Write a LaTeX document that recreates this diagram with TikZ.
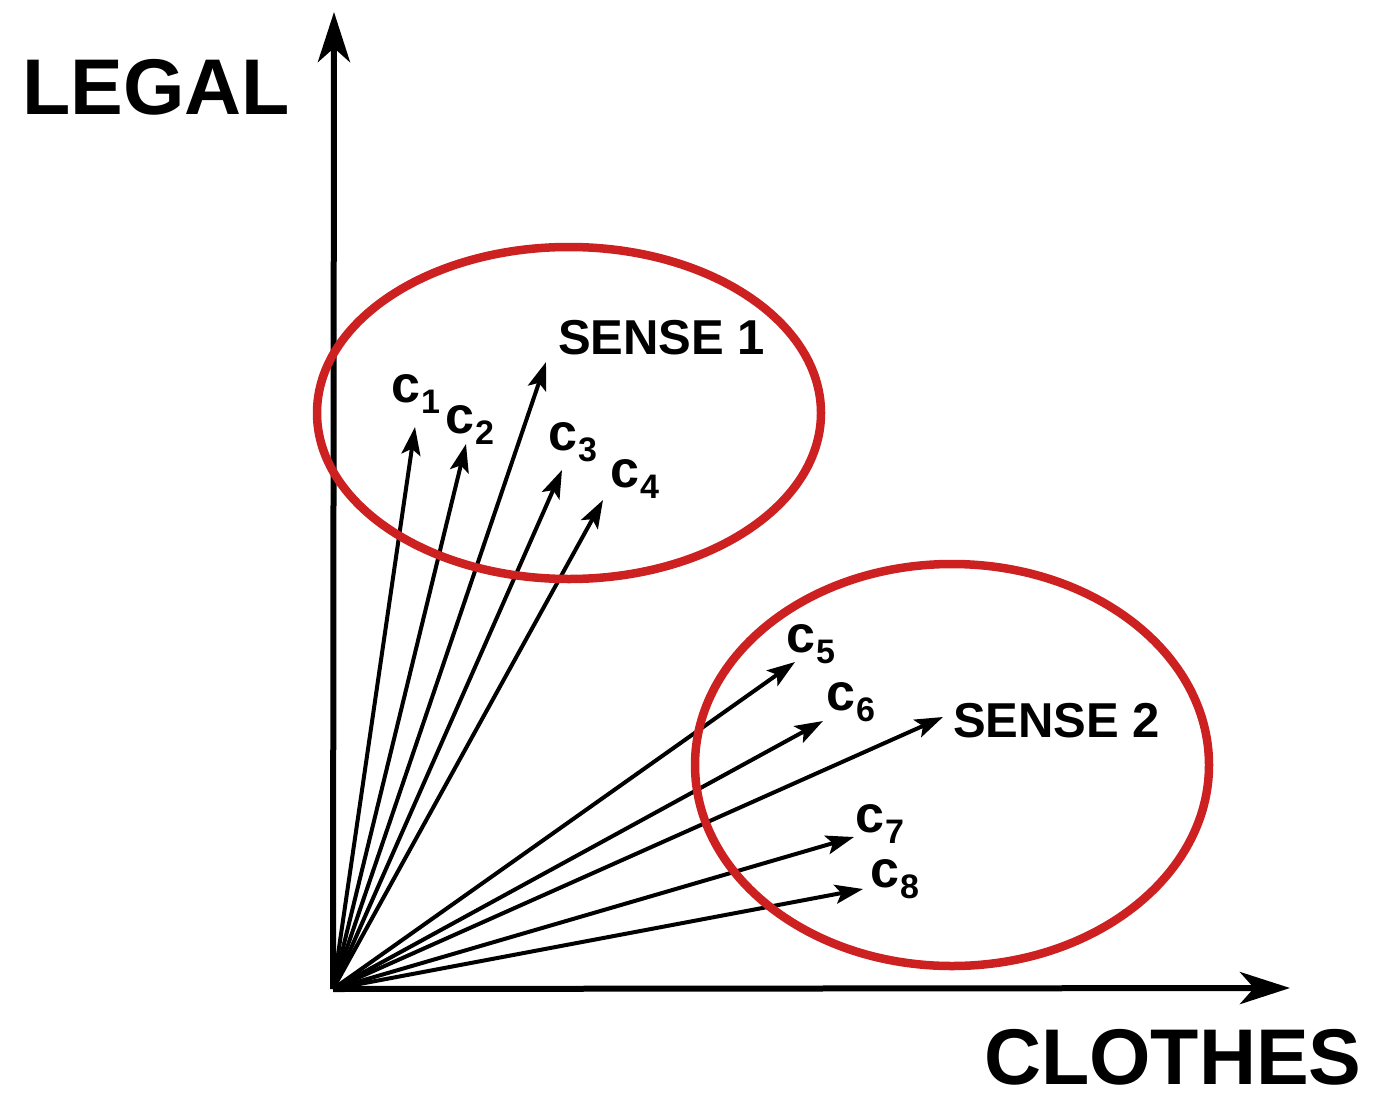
\documentclass[tikz,border=0pt]{standalone}
\usepackage{fontspec}
\setmainfont{Liberation Sans}
\usetikzlibrary{arrows.meta}
\definecolor{sensered}{RGB}{205,32,32}
\newcommand{\cvec}[1]{c\kern1pt\raisebox{-11pt}{\fontsize{34}{34}\selectfont #1}}

\begin{document}
\begin{tikzpicture}[
    x=1pt, y=-1pt,
    axis/.style={line width=6pt, -{Stealth[length=50pt, width=32pt, inset=14pt]}},
    vec/.style={line width=4pt, -{Stealth[length=28pt, width=19pt, inset=6pt]}},
    sense/.style={draw=sensered, line width=8.5pt},
    axlabel/.style={font=\bfseries\fontsize{79}{79}\selectfont, inner sep=0pt, anchor=base west},
    senselabel/.style={font=\bfseries\fontsize{49}{49}\selectfont, inner sep=0pt, anchor=base west},
    veclabel/.style={font=\bfseries\fontsize{52}{52}\selectfont, inner sep=0pt, anchor=base west},
]
\useasboundingbox (0,0) rectangle (1383,1094);

% Origin and axis ends
\coordinate (O) at (333,989);
\coordinate (ytop) at (334,12);
\coordinate (xend) at (1290,988);

% Axes
\draw[axis] (O) -- (ytop);
\draw[axis] (O) -- (xend);
\node[axlabel] (legal) at (22,115) {LEGAL};
\node[axlabel] (clothes) at (984,1084) {CLOTHES};

% Context vector tips
\coordinate (c1) at (415,427);
\coordinate (c2) at (466,444);
\coordinate (s1) at (546,362);
\coordinate (c3) at (562,470);
\coordinate (c4) at (603,500);
\coordinate (c5) at (795,662);
\coordinate (c6) at (823,721);
\coordinate (s2) at (943,717);
\coordinate (c7) at (854,837);
\coordinate (c8) at (863,889);

% Vectors
\foreach \v in {c1,c2,s1,c3,c4,c5,c6,s2,c7,c8}
    \draw[vec] (O) -- (\v);

% Vector labels
\node[veclabel] (lc1) at (391,402) {\cvec{1}};
\node[veclabel] (lc2) at (445,433) {\cvec{2}};
\node[veclabel] (lc3) at (548,450) {\cvec{3}};
\node[veclabel] (lc4) at (610,487) {\cvec{4}};
\node[veclabel] (lc5) at (786,652) {\cvec{5}};
\node[veclabel] (lc6) at (826,710) {\cvec{6}};
\node[veclabel] (lc7) at (855,832) {\cvec{7}};
\node[veclabel] (lc8) at (870,887) {\cvec{8}};
\node[senselabel] (ls1) at (558,354) {SENSE 1};
\node[senselabel] (ls2) at (953,737) {SENSE 2};

% Sense clusters
\draw[sense] (569,413) ellipse [x radius=252, y radius=166];
\draw[sense] (952,765) ellipse [x radius=257, y radius=201];
\end{tikzpicture}
\end{document}
